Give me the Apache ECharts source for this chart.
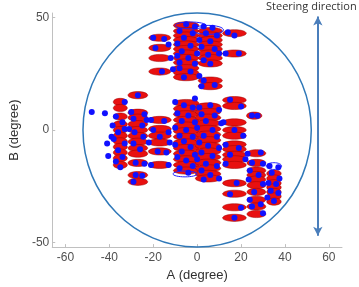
<!DOCTYPE html>
<html>
<head>
<meta charset="utf-8">
<script src="https://cdn.jsdelivr.net/npm/echarts@6/dist/echarts.min.js"></script>
<style>
    html, body { margin: 0; padding: 0; background: #fff; }
    #chart { width: 359px; height: 287px; }
</style>
</head>
<body>
<div id="chart"></div>
<script>
// tick labels
const xTicks = [-60, -40, -20, 0, 20, 40, 60];
const yTicks = [-50, 0, 50];

// red ellipses, one entry per column: centre A, half width, list of centre B
const columnA = [-35, -27, -17, -17, -5, 6, 17, -5, 5, 17, 26, 27, 35];
const columnHalfWidth = [3.2, 4.5, 5.2, 5, 5.8, 5.5, 5.4, 5.8, 5.8, 5.4, 3.5, 4.3, 3.3];
const columnB = [
    [12.5, 9.8, 6, 2.5, 0, -2.5, -5, -7.5, -10, -12.5, -15.5],
    [15.5, 7.7, 5.5, 2.6, 0, -2.6, -5.2, -8, -10.5, -14.6, -20, -23],
    [4.5, 0.5, -2.5, -5.5, -9.5, -15.5],
    [41, 36.5, 32, 26],
    [46.5, 44, 42, 40, 38, 36, 34, 32, 30, 27.5, 25.5, 23.5],
    [44, 42, 40, 38, 36, 34, 32, 29.6, 22, 19.5],
    [43, 34],
    [12, 9.5, 7, 4.5, 2, -0.5, -3, -5.5, -8, -10.5, -13, -15.5, -18],
    [10.5, 8, 5.5, 3, 0.5, -2, -4.5, -7, -9.5, -12, -14.5, -17, -19.5, -21.5],
    [13.3, 10.7, 3.4, 0, -2.5, -6.4, -8.5, -11, -13, -15.5, -23.6, -28.3, -34.3, -39],
    [6.4],
    [-10.3, -14.6, -18, -20, -22, -24.5, -27.5, -31, -34, -37.3],
    [-19.3, -21.5, -23.6, -25.5, -27.5, -29.5, -31.8]
];
const ellipseHalfHeight = 1.6;

// blue outlined ellipses: A, B, half width, half height
const outlineEllipses = [
    [-3, 46.5, 7, 1.5],
    [5, 44.5, 7, 2],
    [-5.5, -19.5, 5.5, 1.3],
    [35, -16, 3.5, 1.5]
];

// blue dots: A, B
const blueDots = [
    [-48, 8], [-42, 7.5], [-41, -6], [-40.5, -11.5], [-39, -3], [-38.5, 2],
    [-33, 12.5], [-37, 6], [-34, 3.5], [-36, -1], [-38, -4], [-33, -6], [-36, -9], [-34, -12], [-37, -14], [-33, 0.5], [-35, -16.5],
    [-27, 15.5], [-30, 8], [-24, 7], [-29, 5], [-25, 2], [-28.5, -1], [-24.5, -3], [-29, -6], [-26, -8.5], [-28, -14.5], [-24, -15], [-28, -20], [-25, -20.3], [-29, -23], [-31, 0.5], [-23, 4.5],
    [-21, 4.5], [-15, 4], [-20, 0], [-13, -1], [-17, -3], [-22, -5.5], [-12.5, -5.5], [-18, -9.5], [-14, -10], [-21, -15.5], [-13, -15.5],
    [-20, 41], [-15, 40.5], [-13, 38], [-19, 36.5], [-12, 32], [-16, 26], [-11, 27], [-8, 30],
    [-5, 47], [-1, 46], [3, 46], [7, 45.5], [-8, 44], [-2, 43], [4, 43], [9, 42], [-6, 41], [1, 40], [6, 39.5], [-9, 38.5], [-3, 37.5], [2, 37], [8, 36], [-7, 35], [0, 34], [5, 33.5], [10, 34], [-4, 32], [3, 31], [-9, 33], [-1, 29.5], [6, 29.5], [-8, 27.5], [-3, 26], [1, 24], [-6, 23.5], [3, 22], [2, 19.5], [8, 20],
    [14, 43.5], [17, 42], [19, 34], [13, 34],
    [-1, 14], [-10, 12.5], [-6, 11], [-2, 10], [-9, 7.5], [-4, 6.5], [-7, 4], [-1, 3.5], [-10, 1], [-5, 0], [-8, -2.5], [-2, -3], [-6, -5], [-10, -6.5], [-3, -7.5], [-7, -9.5], [-1, -11], [-9, -12], [-5, -13.5], [-2, -16], [-8, -17], [-4, -19],
    [1, 10], [6, 11], [10, 9], [2, 7], [8, 6.5], [4, 4], [11, 3], [0, 1], [7, 0], [3, -2.5], [9, -3], [1, -5.5], [5, -7], [10, -8], [2, -10], [7, -11.5], [0, -13], [4, -15], [9, -16], [2, -18], [6, -20], [10, -21.5], [3, -22],
    [15, 13.5], [20, 10.5], [12, 3.5], [17, 0], [21, -2.5], [13, -6.5], [19, -8], [15, -11], [22, -13], [13, -15], [18, -23.5], [15, -28.5], [20, -34.5], [17, -39],
    [25, 6.5], [27.5, 6.3],
    [23, -10.5], [29, -10], [25, -14.5], [30, -15], [24, -18], [28, -20], [23.5, -22], [30, -24], [26, -27.5], [24, -31], [29, -33], [25, -34], [30, -37],
    [33, -16], [37, -16.5], [34, -19], [37.5, -21.5], [32.5, -23.5], [36, -24], [33.5, -27], [37, -28], [35, -31.5], [32, -30]
];

// boundary circle (centre A, B, radius) and steering arrow
const circle = [[0, 0, 52]];
const arrowA = 55;
const arrowB = [-47, 50.5];

let redEllipses = [];
columnA.forEach((a, i) => {
    columnB[i].forEach(b => {
        redEllipses.push([a, b, columnHalfWidth[i], ellipseHalfHeight]);
    });
});

function ellipseItem(fill, stroke, lineWidth) {
    return function (params, api) {
        const c = api.coord([api.value(0), api.value(1)]);
        const s = api.size([api.value(2), api.value(3)]);
        return {
            type: 'ellipse',
            shape: {cx: c[0], cy: c[1], rx: s[0], ry: s[1]},
            style: {fill: fill, stroke: stroke, lineWidth: lineWidth}
        };
    };
}

const chart = echarts.init(document.getElementById('chart'));

const axisFont = {color: '#505050', fontSize: 12, fontFamily: 'Liberation Sans'};

let option = {
    animation: false,
    grid: {left: 37, right: 17, top: 13, bottom: 34},
    xAxis: {
        type: 'value',
        min: -66,
        max: 66,
        name: 'A (degree)',
        nameLocation: 'middle',
        nameGap: 18,
        nameTextStyle: {color: '#303030', fontSize: 13, fontFamily: 'Liberation Sans'},
        splitLine: {show: false},
        axisLine: {onZero: false, lineStyle: {color: '#c0c0c0', width: 1}},
        axisTick: {inside: true, length: 3, customValues: xTicks, lineStyle: {color: '#c0c0c0'}},
        axisLabel: Object.assign({customValues: xTicks, margin: 5}, axisFont)
    },
    yAxis: {
        type: 'value',
        min: -52,
        max: 52,
        name: 'B (degree)',
        nameLocation: 'middle',
        nameGap: 19,
        nameTextStyle: {color: '#303030', fontSize: 13, fontFamily: 'Liberation Sans'},
        splitLine: {show: false},
        axisLine: {show: true, onZero: false, lineStyle: {color: '#c0c0c0', width: 1}},
        axisTick: {show: true, inside: true, length: 3, customValues: yTicks, lineStyle: {color: '#c0c0c0'}},
        axisLabel: Object.assign({customValues: yTicks, margin: 3}, axisFont)
    },
    graphic: [{
        type: 'text',
        left: 266,
        top: 1,
        style: {text: 'Steering direction', fill: '#333', fontSize: 11, fontFamily: 'Open Sans'}
    }],
    series: [
        {
            type: 'custom',
            data: circle,
            encode: {x: 0, y: 1},
            renderItem: function (params, api) {
                const c = api.coord([api.value(0), api.value(1)]);
                const s = api.size([api.value(2), api.value(2)]);
                return {
                    type: 'ellipse',
                    shape: {cx: c[0], cy: c[1], rx: s[0], ry: s[1]},
                    style: {fill: 'none', stroke: '#2f78b8', lineWidth: 1.5}
                };
            },
            markLine: {
                silent: true,
                symbol: ['arrow', 'arrow'],
                symbolSize: [7, 9],
                label: {show: false},
                lineStyle: {color: '#4a7ebb', width: 2, type: 'solid'},
                data: [[{coord: [arrowA, arrowB[0]]}, {coord: [arrowA, arrowB[1]]}]]
            }
        },
        {
            type: 'custom',
            data: redEllipses,
            encode: {x: 0, y: 1},
            renderItem: ellipseItem('#e81010', '#9a0000', 0.5)
        },
        {
            type: 'custom',
            data: outlineEllipses,
            encode: {x: 0, y: 1},
            renderItem: ellipseItem('none', '#2020ff', 1)
        },
        {
            type: 'scatter',
            data: blueDots,
            symbolSize: 6,
            itemStyle: {color: '#1010ff', opacity: 1}
        }
    ]
};

option && chart.setOption(option);
</script>
</body>
</html>
